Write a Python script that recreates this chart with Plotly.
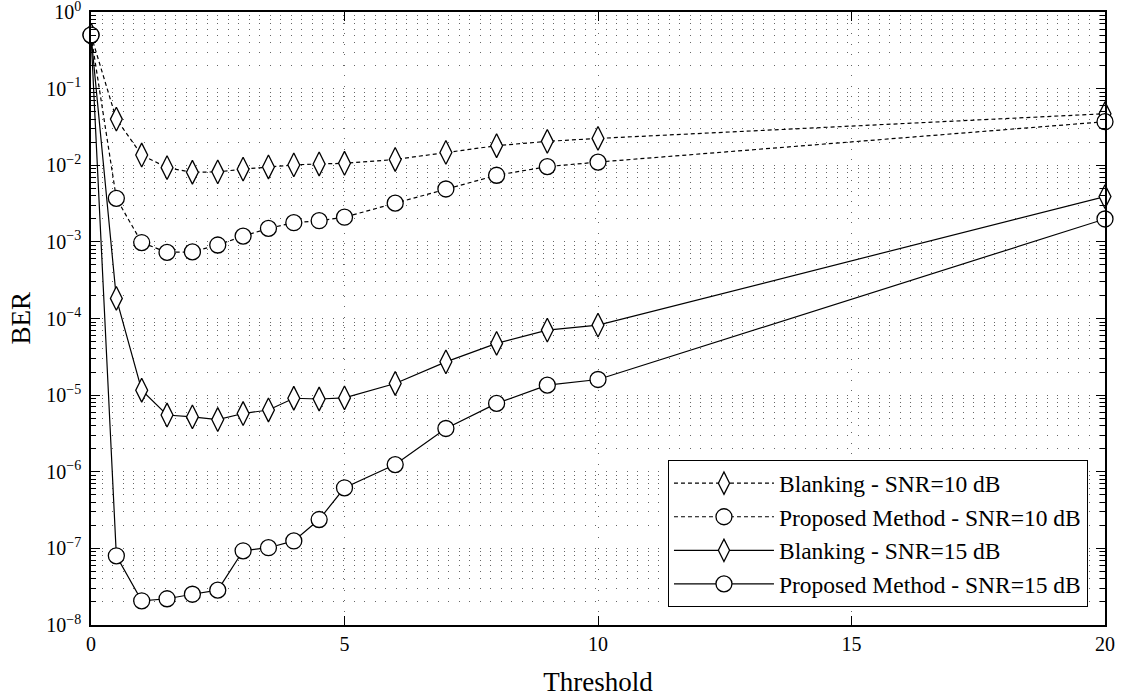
import plotly.graph_objects as go

threshold = [0, 0.5, 1, 1.5, 2, 2.5, 3, 3.5, 4, 4.5, 5, 6, 7, 8, 9, 10, 20]

blank_10 = [0.5, 0.040, 0.0136, 0.0093, 0.0081, 0.0082, 0.0089, 0.0095, 0.0101,
            0.0104, 0.0106, 0.0119, 0.0147, 0.018, 0.0205, 0.0224, 0.047]
prop_10 = [0.5, 0.0037, 0.00098, 0.00073, 0.00074, 0.00091, 0.00119, 0.0015,
           0.00178, 0.00189, 0.0021, 0.0032, 0.0049, 0.0074, 0.0096, 0.011, 0.037]
blank_15 = [0.5, 1.83e-4, 1.16e-5, 5.5e-6, 5.2e-6, 4.8e-6, 5.75e-6, 6.4e-6,
            9.1e-6, 8.9e-6, 9.2e-6, 1.42e-5, 2.72e-5, 4.73e-5, 7.06e-5, 8.2e-5, 3.9e-3]
prop_15 = [0.5, 8.0e-8, 2.07e-8, 2.2e-8, 2.52e-8, 2.85e-8, 9.3e-8, 1.02e-7,
           1.25e-7, 2.38e-7, 6.17e-7, 1.24e-6, 3.67e-6, 7.8e-6, 1.35e-5, 1.6e-5, 1.99e-3]

series_names = ["Blanking - SNR=10 dB", "Proposed Method - SNR=10 dB",
                "Blanking - SNR=15 dB", "Proposed Method - SNR=15 dB"]

x_ticks = [0, 5, 10, 15, 20]
y_exponents = [-8, -7, -6, -5, -4, -3, -2, -1, 0]
y_major = [10.0 ** e for e in y_exponents]
y_ticktext = ["10<sup>" + (str(e).replace("-", "\u2212")) + "</sup>" for e in y_exponents]
y_minor = [m * 10.0 ** e for e in y_exponents[:-1] for m in range(2, 10)]

FONT = "Liberation Serif"
data = [
    (blank_10, "diamond-tall", "4px,3px", series_names[0]),
    (prop_10, "circle", "4px,3px", series_names[1]),
    (blank_15, "diamond-tall", "solid", series_names[2]),
    (prop_15, "circle", "solid", series_names[3]),
]

fig = go.Figure()
for ys, sym, dash, name in data:
    fig.add_trace(go.Scatter(
        x=threshold, y=ys, name=name, mode="lines+markers",
        line=dict(color="black", width=1.2, dash=dash),
        marker=dict(symbol=sym, size=16 if sym == "circle" else 17,
                    color="white", line=dict(color="black", width=1.3)),
        cliponaxis=False,
    ))

grid = dict(gridcolor="#666666", gridwidth=1, griddash="1px,9.5px")

fig.update_layout(
    width=1122, height=697,
    margin=dict(l=91, r=17, t=12, b=72),
    paper_bgcolor="white", plot_bgcolor="white",
    font=dict(family=FONT, color="black", size=20),
    showlegend=True,
    legend=dict(
        x=0.983, y=0.029, xanchor="right", yanchor="bottom",
        bordercolor="black", borderwidth=1.2, bgcolor="white",
        font=dict(family=FONT, size=23.5, color="black"),
        itemwidth=100, tracegroupgap=0,
    ),
    xaxis=dict(
        range=[0, 20], tickmode="array", tickvals=x_ticks,
        ticktext=[str(v) for v in x_ticks], automargin=False,
        ticks="inside", ticklen=9, tickcolor="black", tickwidth=1,
        showline=True, linecolor="black", linewidth=1.5, mirror="ticks",
        showgrid=True, zeroline=False, **grid,
        tickfont=dict(size=20), ticklabelstandoff=0,
        ticklabeloverflow="allow",
        title=dict(text="Threshold", font=dict(size=27), standoff=34),
    ),
    yaxis=dict(
        type="log", range=[-8, 0], tickmode="array", tickvals=y_major,
        ticktext=y_ticktext, automargin=False,
        ticks="inside", ticklen=9, tickcolor="black", tickwidth=1,
        showline=True, linecolor="black", linewidth=1.5, mirror="ticks",
        showgrid=True, zeroline=False, **grid,
        tickfont=dict(size=20), ticklabelstandoff=4,
        ticklabeloverflow="allow",
        minor=dict(tickmode="array", tickvals=y_minor, ticks="inside",
                   ticklen=5, tickcolor="black", tickwidth=1,
                   showgrid=True, **grid),
    ),
    annotations=[dict(
        text="BER", xref="paper", yref="paper", x=-0.0700, y=0.5,
        xanchor="center", yanchor="middle", textangle=-90, showarrow=False,
        font=dict(family=FONT, size=27, color="black"),
    )],
)

fig.write_html("out.html")
